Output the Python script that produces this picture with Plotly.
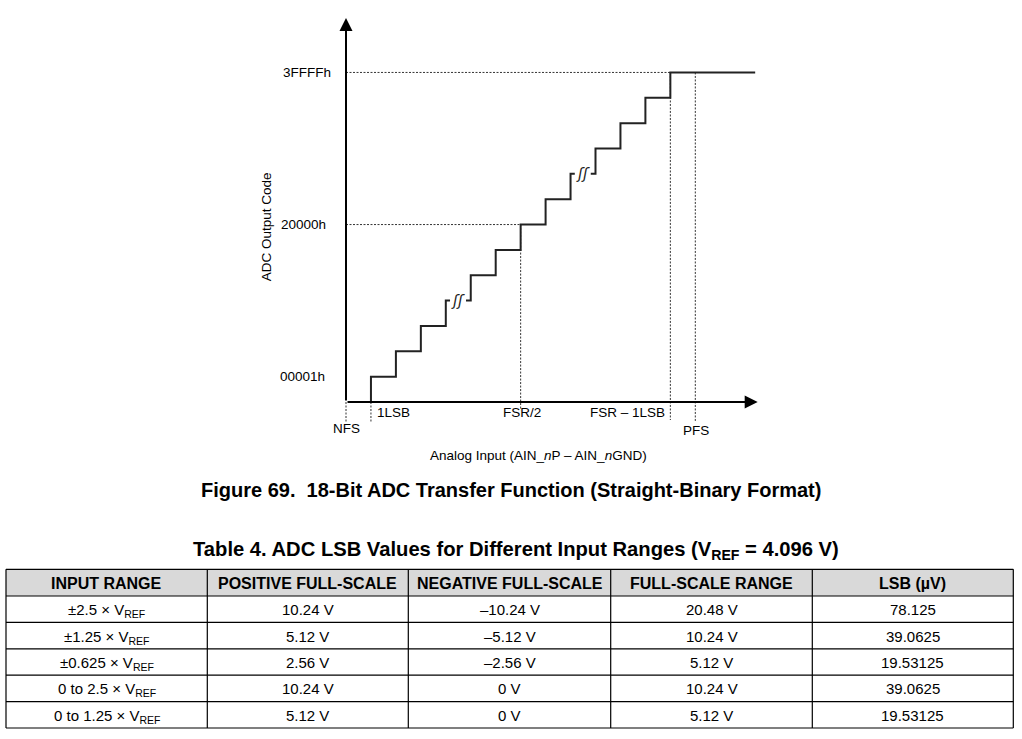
import plotly.graph_objects as go

# ------------------------------------------------------------------ data
# ADC transfer function (schematic): input in LSB units, output code levels
transition_lsb = [1, 2, 3, 4, 5, 6, 7, 8, 9, 10, 11, 12, 13]
output_level = [1, 2, 3, 4, 5, 6, 7, 8, 9, 10, 11, 12, 13]
break_levels = [4, 9]            # levels drawn with the "∫∫" break symbol
final_run_end = 16.4             # end of the saturated (3FFFFh) run
axis_x_end = 16.5
axis_y_end = 15.15

code_labels = ["00001h", "20000h", "3FFFFh"]
code_label_levels = [1, 7, 13]

input_labels = ["NFS", "1LSB", "FSR/2", "FSR – 1LSB", "PFS"]
input_label_pos = [0, 1, 7, 13, 14]
input_guide_top = [0, 0, 7, 13, 13]
input_guide_bottom = [-0.78, -0.78, -0.32, -0.71, -0.78]

x_title = "Analog Input (AIN_<i>n</i>P – AIN_<i>n</i>GND)"
y_title = "ADC Output Code"
caption = "Figure 69.  18-Bit ADC Transfer Function (Straight-Binary Format)"
table_title = "Table 4. ADC LSB Values for Different Input Ranges (V<sub>REF</sub> = 4.096 V)"

# table
table_headers = ["INPUT RANGE", "POSITIVE FULL-SCALE", "NEGATIVE FULL-SCALE",
                 "FULL-SCALE RANGE", "LSB (µV)"]
input_range = ["±2.5 × V<sub>REF</sub>", "±1.25 × V<sub>REF</sub>", "±0.625 × V<sub>REF</sub>",
               "0 to 2.5 × V<sub>REF</sub>", "0 to 1.25 × V<sub>REF</sub>"]
positive_fs = ["10.24 V", "5.12 V", "2.56 V", "10.24 V", "5.12 V"]
negative_fs = ["–10.24 V", "–5.12 V", "–2.56 V", "0 V", "0 V"]
full_scale_range = ["20.48 V", "10.24 V", "5.12 V", "10.24 V", "5.12 V"]
lsb_uv = ["78.125", "39.0625", "19.53125", "39.0625", "19.53125"]

# ------------------------------------------------------------------ layout constants
W, H = 1022, 739
PX_PER_X = 24.95
PX_PER_Y = 25.35
ORIGIN_PX = (346, 402)
FONT = "Liberation Sans, Arial, sans-serif"
INK = "#000000"

x_range = [-ORIGIN_PX[0] / PX_PER_X, (W - ORIGIN_PX[0]) / PX_PER_X]
y_range = [(ORIGIN_PX[1] - H) / PX_PER_Y, ORIGIN_PX[1] / PX_PER_Y]


def px_x(p):
    return p / W


def px_y(p):
    return 1 - p / H


fig = go.Figure()

# ------------------------------------------------------------------ guide lines (dashed)
gx, gy = [], []
for lvl in code_label_levels[1:]:
    end_x = transition_lsb[output_level.index(lvl)]
    gx += [0, end_x, None]
    gy += [lvl, lvl, None]
for pos, top, bot in zip(input_label_pos, input_guide_top, input_guide_bottom):
    gx += [pos, pos, None]
    gy += [top, bot, None]
fig.add_trace(go.Scatter(x=gx, y=gy, mode="lines",
                         line=dict(color="#333333", width=1, dash="2px,1.5px"),
                         hoverinfo="skip", showlegend=False))

# ------------------------------------------------------------------ staircase
sx, sy = [], []
prev = 0
for i, (tx, lvl) in enumerate(zip(transition_lsb, output_level)):
    sx += [tx, tx]
    sy += [prev, lvl]
    nxt = transition_lsb[i + 1] if i + 1 < len(transition_lsb) else final_run_end
    if lvl in break_levels:
        sx += [tx + 0.17 * (nxt - tx), None, tx + 0.81 * (nxt - tx)]
        sy += [lvl, None, lvl]
    prev = lvl
sx.append(final_run_end)
sy.append(output_level[-1])
fig.add_trace(go.Scatter(x=sx, y=sy, mode="lines",
                         line=dict(color="#222222", width=2),
                         hoverinfo="skip", showlegend=False))

# break symbols
for lvl in break_levels:
    i = output_level.index(lvl)
    cx = (transition_lsb[i] + transition_lsb[i + 1]) / 2
    fig.add_annotation(x=cx, y=lvl, text="<i>ʃʃ</i>", showarrow=False,
                       font=dict(family="DejaVu Sans", size=15, color="#222222"),
                       xanchor="center", yanchor="middle")

# ------------------------------------------------------------------ axes with arrowheads
fig.add_annotation(x=axis_x_end, y=0, ax=0, ay=0, xref="x", yref="y", axref="x", ayref="y",
                   text="", showarrow=True, arrowhead=2, arrowsize=1.3, arrowwidth=2,
                   arrowcolor=INK)
fig.add_annotation(x=0, y=axis_y_end, ax=0, ay=0, xref="x", yref="y", axref="x", ayref="y",
                   text="", showarrow=True, arrowhead=2, arrowsize=1.3, arrowwidth=2,
                   arrowcolor=INK)

# ------------------------------------------------------------------ labels
label_font = dict(family=FONT, size=13.5, color=INK)
code_label_right = [-0.75, -0.73, -0.52]
for txt, lvl, xr in zip(code_labels, code_label_levels, code_label_right):
    fig.add_annotation(x=xr, y=lvl, text=txt, showarrow=False, xanchor="right",
                       yanchor="middle", font=label_font)

input_label_x = [0.03, 1.16, 7.04, 12.85, 14.02]
input_label_y = [-1.03, -0.43, -0.43, -0.43, -1.12]
input_label_anchor = ["center", "left", "center", "right", "center"]
for txt, xx, yy, anc in zip(input_labels, input_label_x, input_label_y, input_label_anchor):
    fig.add_annotation(x=xx, y=yy, text=txt, showarrow=False, xanchor=anc,
                       yanchor="middle", font=label_font)

fig.add_annotation(x=7.72, y=-2.12, text=x_title, showarrow=False, xanchor="center",
                   yanchor="middle", font=label_font)
fig.add_annotation(x=-3.2, y=6.9, text=y_title, showarrow=False, textangle=-90,
                   xanchor="center", yanchor="middle", font=label_font)

# captions
fig.add_annotation(x=px_x(511), y=px_y(490), xref="paper", yref="paper",
                   text="<b>" + caption + "</b>", showarrow=False,
                   xanchor="center", yanchor="middle",
                   font=dict(family=FONT, size=20, color=INK))
fig.add_annotation(x=px_x(516), y=px_y(550), xref="paper", yref="paper",
                   text="<b>" + table_title + "</b>", showarrow=False,
                   xanchor="center", yanchor="middle",
                   font=dict(family=FONT, size=20.2, color=INK))

# ------------------------------------------------------------------ table (drawn as grid + text)
col_widths = [201.3, 201.0, 202.4, 201.6, 201.0]
table_left, table_top = 6.0, 569.3
header_h, row_h = 26.7, 26.4

col_edges = [table_left]
for w in col_widths:
    col_edges.append(col_edges[-1] + w)
columns = [input_range, positive_fs, negative_fs, full_scale_range, lsb_uv]
n_rows = len(input_range)
row_edges = [table_top, table_top + header_h]
for _ in range(n_rows):
    row_edges.append(row_edges[-1] + row_h)

# header fill
fig.add_shape(type="rect", xref="paper", yref="paper",
              x0=px_x(col_edges[0]), x1=px_x(col_edges[-1]),
              y0=px_y(row_edges[0]), y1=px_y(row_edges[1]),
              fillcolor="#d9d9d9", line=dict(width=0), layer="below")
# horizontal rules
for r in row_edges:
    fig.add_shape(type="line", xref="paper", yref="paper",
                  x0=px_x(col_edges[0]), x1=px_x(col_edges[-1]),
                  y0=px_y(r), y1=px_y(r), line=dict(color="#000000", width=1.2))
# vertical rules
for c in col_edges:
    fig.add_shape(type="line", xref="paper", yref="paper",
                  x0=px_x(c), x1=px_x(c),
                  y0=px_y(row_edges[0]), y1=px_y(row_edges[-1]),
                  line=dict(color="#000000", width=1.2))

for j, head in enumerate(table_headers):
    cx = (col_edges[j] + col_edges[j + 1]) / 2
    cy = (row_edges[0] + row_edges[1]) / 2
    fig.add_annotation(x=px_x(cx), y=px_y(cy + 0.5), xref="paper", yref="paper",
                       text="<b>" + head + "</b>", showarrow=False,
                       xanchor="center", yanchor="middle",
                       font=dict(family=FONT, size=16, color=INK))
    for i, val in enumerate(columns[j]):
        cy = (row_edges[i + 1] + row_edges[i + 2]) / 2
        shift = 1.5 if "<sub>" in val else 0.5
        fig.add_annotation(x=px_x(cx), y=px_y(cy + shift), xref="paper", yref="paper",
                           text=val, showarrow=False,
                           xanchor="center", yanchor="middle",
                           font=dict(family=FONT, size=15, color=INK))

fig.update_layout(
    width=W, height=H, margin=dict(l=0, r=0, t=0, b=0),
    paper_bgcolor="white", plot_bgcolor="white", showlegend=False,
    xaxis=dict(range=x_range, visible=False, fixedrange=True),
    yaxis=dict(range=y_range, visible=False, fixedrange=True),
)

fig.write_html("out.html", config={"displayModeBar": False},
               post_script="document.body.style.margin='0';document.body.style.overflow='hidden';")
